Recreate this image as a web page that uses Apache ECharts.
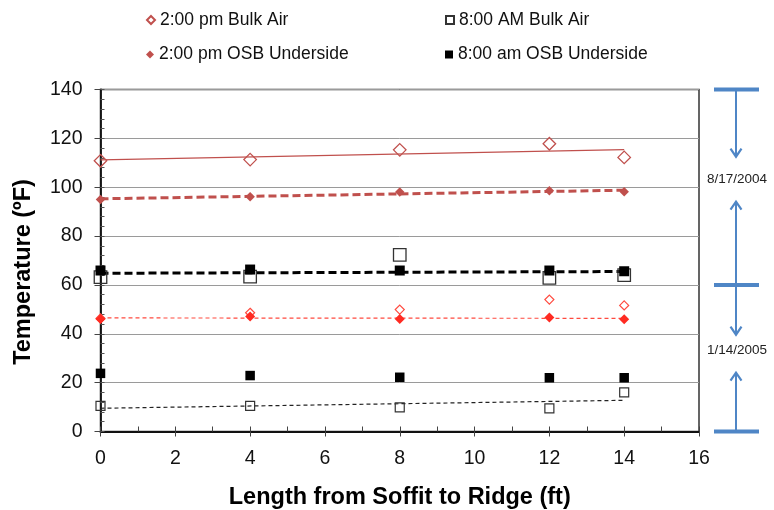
<!DOCTYPE html>
<html>
<head>
<meta charset="utf-8">
<script src="https://cdn.jsdelivr.net/npm/echarts@6/dist/echarts.min.js"></script>
<style>
  html, body { margin: 0; padding: 0; background: #fff; }
  #chart { width: 774px; height: 510px; }
</style>
</head>
<body>
<div id="chart"></div>
<script>
// Measurement positions along the roof slope (ft)
const positions = [0, 4, 8, 12, 14];

// 8/17/2004 readings (°F)
const augBulkAir2pm = [110.8, 111.3, 115.3, 117.8, 112.2];
const augOsb2pm     = [95.0, 96.1, 98.0, 98.6, 98.1];
const augBulkAir8am = [63.2, 63.4, 72.3, 62.9, 64.0];
const augOsb8am     = [65.9, 66.3, 65.9, 65.9, 65.6];

// 1/14/2005 readings (°F)
const janBulkAir2pm = [46.3, 48.6, 49.9, 54.0, 51.6];
const janOsb2pm     = [46.1, 47.1, 46.1, 46.7, 46.0];
const janBulkAir8am = [10.5, 10.5, 9.9, 9.5, 16.0];
const janOsb8am     = [23.8, 22.9, 22.2, 22.0, 22.0];

// Legend entries
const legendNames = ['2:00 pm Bulk Air', '2:00 pm OSB Underside', '8:00 AM Bulk Air', '8:00 am OSB Underside'];

// Axis ranges
const xRange = { min: 0, max: 16, step: 2 };
const yRange = { min: 0, max: 140, step: 20 };

// Date brackets on the right: boundaries (°F) and labels
const bracketBounds = [140, 60, 0];
const bracketLabels = ['8/17/2004', '1/14/2005'];

const FONT = "'Liberation Sans', Arial, sans-serif";

function pairs(ys) { return positions.map((x, i) => [x, ys[i]]); }

// Least-squares straight line through a set of readings, drawn across the measured span
function trend(ys) {
  const n = positions.length;
  const mx = positions.reduce((a, b) => a + b, 0) / n;
  const my = ys.reduce((a, b) => a + b, 0) / n;
  let sxy = 0, sxx = 0;
  positions.forEach((x, i) => { sxy += (x - mx) * (ys[i] - my); sxx += (x - mx) * (x - mx); });
  const b = sxy / sxx, a = my - b * mx;
  const x0 = positions[0], x1 = positions[n - 1];
  return [[x0, a + b * x0], [x1, a + b * x1]];
}

function trendSeries(name, ys, color, width, dash) {
  return {
    name: name, type: 'line', data: trend(ys), showSymbol: false, silent: true, z: 2,
    lineStyle: { color: color, width: width, type: dash || 'solid' }
  };
}

function markerSeries(name, ys, symbol, size, fill, border, bw) {
  return {
    name: name, type: 'scatter', data: pairs(ys), symbol: symbol, symbolSize: size, z: 3,
    itemStyle: { color: fill, borderColor: border, borderWidth: bw, opacity: 1 }
  };
}

const RED = '#c0504d';
const BRIGHT_RED = '#ff2b22';
const CLEAR = 'rgba(255,255,255,0)';

const chart = echarts.init(document.getElementById('chart'), null, { renderer: 'canvas' });

function legendAt(name, left, top) {
  return {
    data: [name], left: left, top: top, orient: 'horizontal', padding: 0,
    itemWidth: 8, itemHeight: 8, itemGap: 0, selectedMode: false,
    textStyle: { fontFamily: FONT, fontSize: 17.5, color: '#111', lineHeight: 20 }
  };
}

chart.setOption({
  animation: false,
  backgroundColor: '#fff',
  textStyle: { fontFamily: FONT },
  grid: {
    left: 100.5, right: 75, top: 89.5, bottom: 78.5,
    outerBoundsMode: 'none', containLabel: false,
    show: true, borderColor: '#333', borderWidth: 1.5, backgroundColor: 'transparent'
  },
  legend: [
    legendAt(legendNames[0], 146, 10),
    legendAt(legendNames[1], 146, 44.5),
    legendAt(legendNames[2], 445, 10),
    legendAt(legendNames[3], 445, 44.5)
  ],
  xAxis: [
    {
      type: 'value', min: xRange.min, max: xRange.max, interval: xRange.step, position: 'bottom',
      name: 'Length from Soffit to Ridge (ft)', nameLocation: 'middle', nameGap: 54,
      nameTextStyle: { fontFamily: FONT, fontSize: 23.5, fontWeight: 'bold', color: '#000' },
      axisLine: { show: true, onZero: false, lineStyle: { color: '#111', width: 1.8 } },
      axisTick: { show: true, length: 5, lineStyle: { color: '#444', width: 1 } },
      axisLabel: { fontFamily: FONT, fontSize: 19.5, color: '#111', margin: 17 },
      splitLine: { show: false }
    },
    {
      type: 'value', min: xRange.min, max: xRange.max, interval: 1, position: 'bottom',
      axisLine: { show: false, onZero: false },
      axisTick: { show: true, inside: true, length: 5, lineStyle: { color: '#444', width: 1 } },
      axisLabel: { show: false },
      splitLine: { show: false }
    }
  ],
  yAxis: [
    {
      type: 'value', min: yRange.min, max: yRange.max, interval: yRange.step, position: 'left',
      axisLine: { show: true, onZero: false, lineStyle: { color: '#111', width: 1.8 } },
      axisTick: { show: true, length: 6, lineStyle: { color: '#444', width: 1 } },
      axisLabel: { fontFamily: FONT, fontSize: 19.5, color: '#111', margin: 18 },
      splitLine: { show: true, lineStyle: { color: '#9a9a9a', width: 1 } }
    },
    {
      type: 'value', min: yRange.min, max: yRange.max, interval: 4, position: 'left',
      axisLine: { show: false, onZero: false },
      axisTick: { show: true, inside: true, length: 4, lineStyle: { color: '#555', width: 1 } },
      axisLabel: { show: false },
      splitLine: { show: false }
    }
  ],
  series: [
    // fitted lines
    trendSeries('fit 2pm bulk air Aug', augBulkAir2pm, RED, 1.3),
    trendSeries('fit 2pm OSB Aug', augOsb2pm, RED, 3, [8, 4]),
    trendSeries('fit 8am Aug', augBulkAir8am, '#000', 3, [8, 4]),
    trendSeries('fit 2pm OSB Jan', janOsb2pm, '#ff4a3f', 1.2, [4, 3]),
    trendSeries('fit 8am bulk air Jan', janBulkAir8am, '#222', 1.2, [4, 3]),
    // open markers (bulk air)
    markerSeries(legendNames[0], augBulkAir2pm, 'diamond', 12.5, CLEAR, RED, 1.3),
    markerSeries(legendNames[0], janBulkAir2pm, 'diamond', 9, CLEAR, '#ff4a3f', 1.2),
    markerSeries(legendNames[2], augBulkAir8am, 'rect', 12.5, CLEAR, '#333', 1.3),
    markerSeries(legendNames[2], janBulkAir8am, 'rect', 9, CLEAR, '#333', 1.2),
    // filled markers (OSB underside)
    markerSeries(legendNames[1], augOsb2pm, 'diamond', 9.5, RED, RED, 0),
    markerSeries(legendNames[1], janOsb2pm, 'diamond', 10, BRIGHT_RED, BRIGHT_RED, 0),
    markerSeries(legendNames[3], augOsb8am, 'rect', 10, '#000', '#000', 0),
    markerSeries(legendNames[3], janOsb8am, 'rect', 9.5, '#000', '#000', 0)
  ]
});

// Right-hand date brackets, placed against the temperature axis
(function drawBrackets() {
  const BLUE = '#4f86c6';
  const xc = 736, barL = 714, barR = 759;
  const ys = bracketBounds.map(v => chart.convertToPixel({ yAxisIndex: 0 }, v));
  const downGap = [23, 16], upGap = [22, 22];
  const els = [];
  ys.forEach(y => {
    els.push({ type: 'rect', shape: { x: barL, y: y - 2, width: barR - barL, height: 4 },
               style: { fill: BLUE }, z: 10 });
  });
  bracketLabels.forEach((label, i) => {
    const yA = ys[i], yB = ys[i + 1];
    const yL = (yA + yB) / 2 - 7.5;
    const tDown = yL - downGap[i], tUp = yL + upGap[i];
    els.push({ type: 'line', shape: { x1: xc, y1: yA, x2: xc, y2: tDown }, style: { stroke: BLUE, lineWidth: 2 }, z: 10 });
    els.push({ type: 'polyline', shape: { points: [[xc - 5.5, tDown - 8], [xc, tDown], [xc + 5.5, tDown - 8]] },
               style: { stroke: BLUE, lineWidth: 2.2, fill: null }, z: 10 });
    els.push({ type: 'line', shape: { x1: xc, y1: tUp, x2: xc, y2: yB }, style: { stroke: BLUE, lineWidth: 2 }, z: 10 });
    els.push({ type: 'polyline', shape: { points: [[xc - 5.5, tUp + 8], [xc, tUp], [xc + 5.5, tUp + 8]] },
               style: { stroke: BLUE, lineWidth: 2.2, fill: null }, z: 10 });
    els.push({ type: 'text', x: xc + 1, y: yL,
               style: { text: label, fontFamily: FONT, fontSize: 13.5, fill: '#222', align: 'center', verticalAlign: 'middle' }, z: 10 });
  });
  // vertical axis title
  els.push({ type: 'text', x: 24, y: 272, rotation: Math.PI / 2,
             style: { text: 'Temperature (ºF)', fontFamily: FONT, fontSize: 23.5, fontWeight: 'bold', fill: '#000',
                      align: 'center', verticalAlign: 'middle' }, z: 10 });
  chart.setOption({ graphic: els });
})();
</script>
</body>
</html>
